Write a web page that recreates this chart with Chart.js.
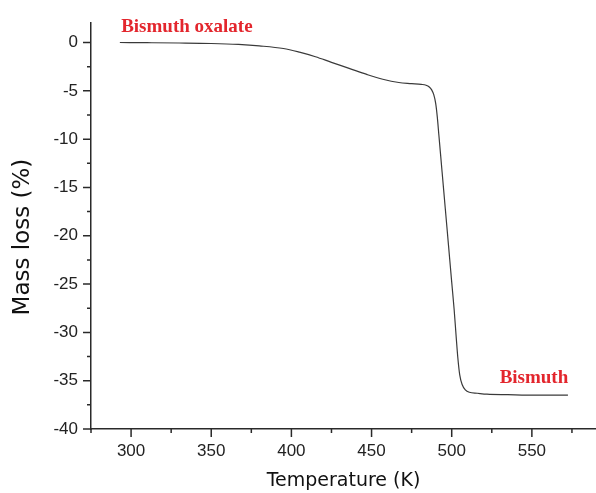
<!DOCTYPE html>
<html>
<head>
<meta charset="utf-8">
<script src="https://cdn.jsdelivr.net/npm/chart.js@4/dist/chart.umd.min.js"></script>
<style>
    html, body { margin: 0; padding: 0; background: #fff; }
    #wrap { width: 596px; height: 493px; }
</style>
</head>
<body>
<div id="wrap"><canvas id="tga"></canvas></div>
<script>
// TGA curve
const temperature = [293, 310, 330, 350, 367, 380, 395, 405, 415, 425, 436, 447, 457, 467, 475, 481, 484, 486,
    487.5, 488.8, 490, 491, 492, 494, 496, 498, 500, 501.5, 502.8, 503.8, 505, 506.5, 508.5, 511, 516, 522, 535, 553, 572.5];
const massLoss = [0, -0.02, -0.05, -0.1, -0.2, -0.35, -0.62, -1.0, -1.47, -2.05, -2.67, -3.3, -3.8, -4.14, -4.25, -4.33, -4.42, -4.6,
    -4.9, -5.4, -6.3, -7.7, -9.6, -13.4, -17.2, -21.0, -24.8, -27.6, -30.5, -32.6, -34.4, -35.4, -35.95, -36.2, -36.3, -36.4, -36.45, -36.5, -36.5];

// labels written on the plot
const noteText = ['Bismuth oxalate', 'Bismuth'];
const noteX = [293.8, 572.7];
const noteY = [1.1, -35.2];
const noteAlign = ['left', 'right'];

const AXIS_COLOR = '#2a2a2a';
const TEXT_COLOR = '#222';
const RED = '#e3262d';

const tickMarks = {
    id: 'tickMarks',
    afterDraw(chart) {
        const ctx = chart.ctx;
        const xs = chart.scales.x;
        const ys = chart.scales.y;
        ctx.save();
        ctx.strokeStyle = AXIS_COLOR;
        ctx.lineWidth = 1.5;
        ctx.beginPath();
        xs.ticks.forEach(t => {
            const px = xs.getPixelForValue(t.value);
            const len = t.value % 50 === 0 ? 8 : 4;
            ctx.moveTo(px, xs.top);
            ctx.lineTo(px, xs.top + len);
        });
        ys.ticks.forEach(t => {
            const py = ys.getPixelForValue(t.value);
            const len = t.value % 5 === 0 ? 8 : 4;
            ctx.moveTo(ys.right, py);
            ctx.lineTo(ys.right - len, py);
        });
        ctx.stroke();

        // red notes
        ctx.fillStyle = RED;
        ctx.font = "bold 19px 'Liberation Serif', serif";
        ctx.textBaseline = 'alphabetic';
        noteText.forEach((txt, i) => {
            ctx.textAlign = noteAlign[i];
            ctx.fillText(txt, xs.getPixelForValue(noteX[i]), ys.getPixelForValue(noteY[i]));
        });
        ctx.restore();
    }
};

const config = {
    type: 'line',
    data: {
        datasets: [{
            data: temperature.map((t, i) => ({ x: t, y: massLoss[i] })),
            borderColor: '#3a3a3a',
            borderWidth: 1.2,
            pointRadius: 0,
            fill: false,
            cubicInterpolationMode: 'monotone'
        }]
    },
    options: {
        responsive: true,
        maintainAspectRatio: false,
        animation: false,
        layout: { padding: { top: 20, right: 0, left: 0, bottom: 0 } },
        plugins: {
            legend: { display: false },
            tooltip: { enabled: false }
        },
        scales: {
            x: {
                type: 'linear',
                min: 275,
                max: 590,
                afterFit: (scale) => { scale.height = 64; },
                grid: { display: true, drawOnChartArea: false, drawTicks: false },
                border: { display: true, color: AXIS_COLOR, width: 1.5 },
                ticks: {
                    stepSize: 25,
                    includeBounds: false,
                    autoSkip: false,
                    maxRotation: 0,
                    padding: 12,
                    color: TEXT_COLOR,
                    font: { family: "'Liberation Sans', Arial, sans-serif", size: 17 },
                    callback: (v) => v % 50 === 0 ? v : ''
                },
                title: {
                    display: true,
                    text: 'Temperature (K)',
                    color: '#111',
                    padding: { top: 0, bottom: 1 },
                    font: { family: "'DejaVu Sans', sans-serif", size: 19 }
                }
            },
            y: {
                min: -40,
                max: 2,
                afterFit: (scale) => { scale.width = 91; },
                grid: { display: true, drawOnChartArea: false, drawTicks: false },
                border: { display: true, color: AXIS_COLOR, width: 1.5 },
                ticks: {
                    stepSize: 2.5,
                    includeBounds: false,
                    autoSkip: false,
                    padding: 13,
                    color: TEXT_COLOR,
                    font: { family: "'Liberation Sans', Arial, sans-serif", size: 17 },
                    callback: (v) => v % 5 === 0 ? v : ''
                },
                title: {
                    display: true,
                    text: 'Mass loss (%)   ',
                    color: '#111',
                    padding: { top: 9, bottom: 0 },
                    font: { family: "'DejaVu Sans', sans-serif", size: 23 }
                }
            }
        }
    },
    plugins: [tickMarks]
};

const ctx = document.getElementById('tga');
const tgaChart = new Chart(ctx, config);
</script>
</body>
</html>
